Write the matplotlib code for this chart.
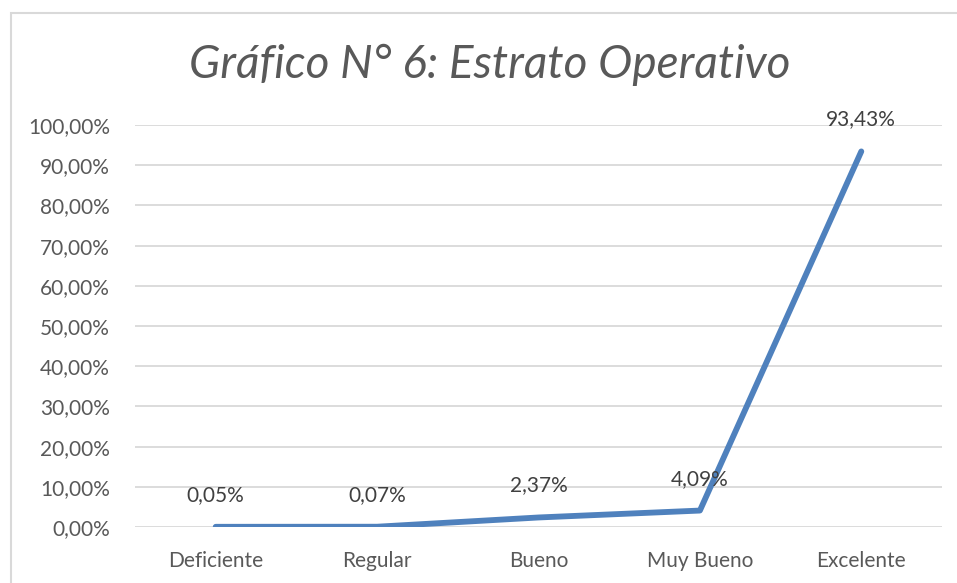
import matplotlib
matplotlib.use("Agg")
import matplotlib.pyplot as plt
from matplotlib.patches import Rectangle

categories = ["Deficiente", "Regular", "Bueno", "Muy Bueno", "Excelente"]
values = [0.05, 0.07, 2.37, 4.09, 93.43]
yticks = [0, 10, 20, 30, 40, 50, 60, 70, 80, 90, 100]
title = "Gráfico N° 6: Estrato Operativo"

def fmt(v):
    return f"{v:.2f}".replace(".", ",") + "%"

plt.rcParams['font.family'] = ['Lato', 'DejaVu Sans']

fig = plt.figure(figsize=(9.57, 5.83), dpi=100)
fig.patches.append(Rectangle((11/957, -0.1), 1.2, 1 - 13/583 + 0.1,
                             transform=fig.transFigure, fill=False,
                             edgecolor="#D9D9D9", linewidth=1.5))
ax = fig.add_axes([135/957, 1 - 527/583, (942 - 135)/957, (527 - 125)/583])

x = list(range(len(categories)))
ax.plot(x, values, color="#4F81BD", linewidth=4.2, solid_capstyle="round",
        solid_joinstyle="round", zorder=3)
for xi, v in zip(x, values):
    ax.annotate(fmt(v), (xi, v), xytext=(0, 23), textcoords="offset points",
                ha="center", va="center", fontsize=15, color="#404040", zorder=4)

ax.set_xlim(-0.5, len(categories) - 0.5)
ax.set_ylim(0, 100)
ax.set_yticks(yticks)
ax.set_yticklabels([fmt(t) for t in yticks])
ax.set_xticks(x)
ax.set_xticklabels(categories)
ax.tick_params(axis="both", length=0, labelsize=15, colors="#595959")
ax.tick_params(axis="y", pad=18)
ax.tick_params(axis="x", pad=17)
ax.grid(axis="y", color="#D9D9D9", linewidth=1.3)
ax.set_axisbelow(True)
for s in ax.spines.values():
    s.set_visible(False)

fig.text(490/957, 1 - 65/583, title, ha="center", va="center", fontsize=33,
         style="italic", color="#595959")

fig.savefig("out.png", dpi=100)
